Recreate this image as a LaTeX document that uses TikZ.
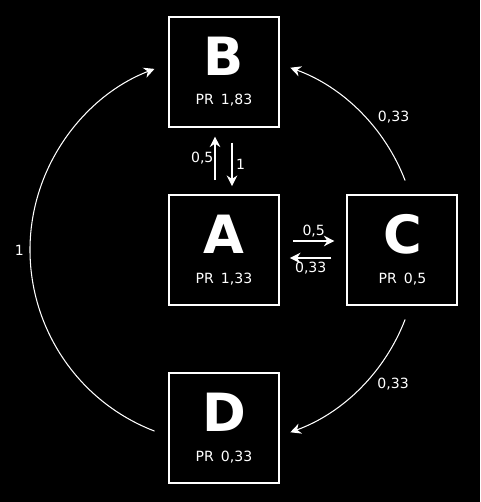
\documentclass[tikz,border=0pt]{standalone}
\usepackage{fontspec}
\setmainfont{DejaVu Sans}
\usetikzlibrary{arrows.meta, positioning}

\newcommand{\pageletter}[1]{{\fontsize{30}{30}\selectfont\bfseries #1}}
\newcommand{\pagerank}[1]{{\fontsize{8}{10}\selectfont PR\enspace #1}}

\begin{document}
\begin{tikzpicture}[
            x=0.02cm, y=0.02cm,
            node distance=1.33cm and 1.33cm,
            page/.style  ={rectangle, draw=white, line width=1.1pt, text=white,
                           minimum size=2.2cm, inner sep=0pt, align=center},
            link/.style  ={-{Stealth[length=6pt, width=6pt]}, white, line width=0.8pt},
            jump/.style  ={-{Stealth[length=6pt, width=6pt]}, white, line width=0.6pt},
            weight/.style={text=white, font=\fontsize{8}{10}\selectfont, inner sep=2pt}
        ]
        \fill[black] (0,0) rectangle (480,502);

        \node[page] (A) at (224,252) {\pageletter{A}\\[5pt]\pagerank{1,33}};
        \node[page, above=of A] (B) {\pageletter{B}\\[5pt]\pagerank{1,83}};
        \node[page, right=of A] (C) {\pageletter{C}\\[5pt]\pagerank{0,5}};
        \node[page, below=of A] (D) {\pageletter{D}\\[5pt]\pagerank{0,33}};

        % A <-> B
        \draw[link] ([xshift=-0.18cm, yshift=0.28cm]A.north) -- node[weight, left=-1.5pt]{0,5} ([xshift=-0.18cm, yshift=-0.18cm]B.south);
        \draw[link] ([xshift=0.16cm, yshift=-0.3cm]B.south) -- node[weight, right]{1} ([xshift=0.16cm, yshift=0.16cm]A.north);
        % A <-> C
        \draw[link] ([xshift=0.26cm, yshift=0.18cm]A.east) -- node[weight, above]{0,5} ([xshift=-0.24cm, yshift=0.18cm]C.west);
        \draw[link] ([xshift=-0.3cm, yshift=-0.16cm]C.west) -- node[weight, below]{0,33} ([xshift=0.2cm, yshift=-0.16cm]A.east);

        % arcs round A
        \path (A) ++(249:3.88cm) coordinate (fromD);
        \path (A) ++(21:3.88cm)  coordinate (fromCtop);
        \path (A) ++(-21:3.88cm) coordinate (fromCbot);
        \draw[jump] (fromD) arc[start angle=249, end angle=111, radius=3.88cm]
            node[weight, pos=0.5, left=1.3pt]{1};
        \draw[jump] (fromCtop) arc[start angle=21, end angle=70, radius=3.88cm]
            node[weight, pos=0.375, above right=0pt]{0,33};
        \draw[jump] (fromCbot) arc[start angle=-21, end angle=-70, radius=3.88cm]
            node[weight, pos=0.38, below right=0pt]{0,33};
\end{tikzpicture}
\end{document}
